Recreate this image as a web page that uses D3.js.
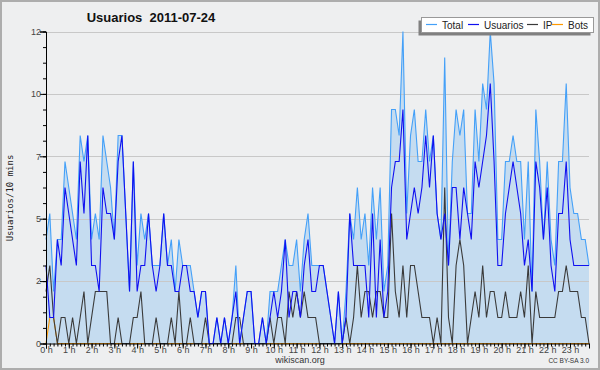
<!DOCTYPE html>
<html><head><meta charset="utf-8">
<script src="https://cdn.jsdelivr.net/npm/d3@7"></script>
<style>body{margin:0;background:#fff}svg{display:block}</style>
</head><body>
<svg id="c" width="600" height="370"></svg>
<script>
const hourLabels = d3.range(24).map(h => h + " h");
const yTickValues = [0, 2.4, 4.8, 7.2, 9.6, 12];
const yTickLabels = ["0", "2", "5", "7", "10", "12"];
const seriesNames = ["Total", "Usuarios", "IP", "Bots"];
const seriesColors = ["#44a0f8", "#1010f0", "#3a3a3a", "#ff9a00"];

const total = [4,5,2,4,4,7,6,5,4,8,7,8,4,5,4,8,7,6,4,8,8,5,2,7,3,5,4,5,3,3,3,5,3,4,2,4,
  3,3,3,2,1,2,2,0,0,1,0,1,0,1,3,0,1,2,2,0,0,1,0,2,2,2,3,4,3,3,4,2,4,5,3,3,3,
  3,2,1,0,2,0,2,5,4,6,4,5,3,6,4,6,2,3,9,9,8,12,5,8,9,7,7,9,7,8,5,4,11,3,7,
  9,8,9,5,5,9,7,10,9,12,10,4,4,7,7,8,7,7,4,7,2,9,7,4,7,4,3,7,7,10,6,5,5,4,4,3];
const usuarios = [3,1,1,4,3,6,5,4,3,7,5,8,3,3,2,6,5,5,4,7,8,5,2,7,2,3,3,5,3,2,3,5,3,3,2,2,
  3,3,2,2,1,2,2,0,0,1,0,1,0,1,2,0,1,2,2,0,0,1,0,1,2,1,2,4,1,2,2,1,3,4,2,2,3,
  3,2,1,0,2,0,1,5,3,3,3,3,1,5,1,4,1,2,6,7,7,9,4,5,6,5,6,8,6,8,5,4,5,3,6,
  6,4,6,5,4,7,6,7,8,10,7,3,3,5,6,7,6,5,3,4,2,7,6,4,6,3,2,5,5,7,4,3,3,3,3,3];
const ip = [2,3,1,0,1,1,0,1,0,1,2,0,1,2,2,2,2,0,0,1,0,0,0,1,1,2,0,0,0,1,0,0,0,1,0,2,
  0,0,1,0,0,0,1,0,0,0,0,0,0,0,1,1,0,0,0,0,0,0,0,1,0,1,1,0,2,1,2,1,2,1,1,1,0,
  0,0,0,0,0,0,1,0,1,3,1,2,2,1,2,2,1,1,5,2,1,3,1,3,3,2,1,1,1,0,1,0,6,1,0,
  3,4,3,0,1,2,1,3,1,2,2,1,1,2,1,1,1,2,1,3,0,2,1,1,1,1,1,2,2,3,2,2,2,1,1,0];
const bots = [0,1,1,0,0,0,0,0,0,0,0,0,0,0,0,0,0,0,0,0,0,0,0,0,0,0,0,0,0,0,0,0,0,0,0,0,
  0,0,0,0,0,0,0,0,0,0,0,0,0,0,0,0,0,0,0,0,0,0,0,0,0,0,0,0,0,0,0,0,0,0,0,0,0,
  0,0,0,0,0,0,0,0,0,0,0,0,0,0,0,0,0,0,0,0,0,0,0,0,0,0,0,0,0,0,0,0,0,0,0,
  0,0,0,0,0,0,0,0,0,0,0,0,0,0,0,0,0,0,0,0,0,0,0,0,0,0,0,0,0,0,0,0,0,0,0,0];

const svg = d3.select("#c");
const W = 600, H = 370;
const L = 46, R = 589, T = 31.5, B = 343.5;
const n = total.length;
const x = d3.scaleLinear().domain([0, n - 1]).range([L, R]);
const y = d3.scaleLinear().domain([0, 12]).range([B, T]);
const FONT = "'Liberation Sans', Arial, sans-serif";

svg.append("rect").attr("x", 1).attr("y", 1).attr("width", W - 2).attr("height", H - 2)
  .attr("fill", "#eeeff0").attr("stroke", "#adadad").attr("stroke-width", 2);

// title
svg.append("text").attr("x", 151).attr("y", 22).attr("text-anchor", "middle")
  .attr("font-family", FONT).attr("font-weight", "bold").attr("font-size", 13)
  .attr("fill", "#111").attr("xml:space", "preserve").text("Usuarios  2011-07-24");

// area
svg.append("path").datum(total)
  .attr("d", d3.area().x((d, i) => x(i)).y0(y(0)).y1(d => y(d)))
  .attr("fill", "#c5dcf0");

// grid
svg.append("g").selectAll("line").data(yTickValues.filter(v => v > 0)).join("line")
  .attr("x1", L).attr("x2", R).attr("y1", d => Math.round(y(d)) + 0.5).attr("y2", d => Math.round(y(d)) + 0.5)
  .attr("stroke", "#c8c8c8").attr("stroke-width", 1);

// lines
const line = d3.line().x((d, i) => x(i)).y(d => y(d));
const data = [total, usuarios, ip, bots];
[3, 2, 0, 1].forEach(k => {
  svg.append("path").datum(data[k]).attr("d", line)
    .attr("fill", "none").attr("stroke", seriesColors[k]).attr("stroke-width", 1.1);
});

// y axis
const yAxis = d3.axisLeft(y).tickValues(yTickValues).tickSize(6)
  .tickFormat((d, i) => yTickLabels[i]);
const gy = svg.append("g").attr("transform", `translate(${L},0)`).call(yAxis);
gy.select(".domain").attr("stroke", "#000");
gy.selectAll(".tick line").attr("stroke", "#000");
gy.selectAll(".tick text").attr("font-family", FONT).attr("font-size", 9).attr("fill", "#444").attr("x", -5);
const gyMinor = d3.axisLeft(y).tickValues(d3.range(0, 12.01, 0.6)).tickSize(3).tickFormat("");
const gym = svg.append("g").attr("transform", `translate(${L},0)`).call(gyMinor);
gym.select(".domain").remove();
gym.selectAll(".tick line").attr("stroke", "#000");

// x axis
const hourIdx = d3.range(24).map(h => h * 6);
const xAxis = d3.axisBottom(x).tickValues(hourIdx).tickSize(5)
  .tickFormat((d, i) => hourLabels[i]);
const gx = svg.append("g").attr("transform", `translate(0,${B})`).call(xAxis);
gx.select(".domain").attr("stroke", "#000");
gx.selectAll(".tick line").attr("stroke", "#000");
gx.selectAll(".tick text").attr("font-family", FONT).attr("font-size", 9).attr("fill", "#444").attr("dy", "0.45em").attr("y", 5);
const gxMinor = d3.axisBottom(x).tickValues(d3.range(0, n)).tickSize(3).tickFormat("");
const gxm = svg.append("g").attr("transform", `translate(0,${B})`).call(gxMinor);
gxm.select(".domain").remove();
gxm.selectAll(".tick line").attr("stroke", "#000");

// y label
svg.append("text").attr("transform", "translate(13,198) rotate(-90)").attr("text-anchor", "middle")
  .attr("font-family", "'DejaVu Sans Mono', monospace").attr("font-size", 9).attr("fill", "#222")
  .text("Usuarios/10 mins");

// footer
svg.append("text").attr("x", 300).attr("y", 363).attr("text-anchor", "middle")
  .attr("font-family", FONT).attr("font-size", 9).attr("fill", "#333").text("wikiscan.org");
svg.append("text").attr("x", 589).attr("y", 363).attr("text-anchor", "end")
  .attr("font-family", FONT).attr("font-size", 6.5).attr("fill", "#333").text("CC BY-SA 3.0");

// legend
const lg = svg.append("g");
lg.append("rect").attr("x", 418.5).attr("y", 20.5).attr("width", 172).attr("height", 15).attr("fill", "#808080");
lg.append("rect").attr("x", 421.5).attr("y", 17.5).attr("width", 172).attr("height", 15).attr("fill", "#fff").attr("stroke", "#999");
const legX = [426, 468, 527, 552];
seriesNames.forEach((s, k) => {
  lg.append("line").attr("x1", legX[k]).attr("x2", legX[k] + 11).attr("y1", 24.5).attr("y2", 24.5)
    .attr("stroke", seriesColors[k]).attr("stroke-width", 1.2);
  lg.append("text").attr("x", legX[k] + 16).attr("y", 28.5).attr("font-family", FONT).attr("font-size", 10)
    .attr("fill", "#222").text(s);
});
</script>
</body></html>
